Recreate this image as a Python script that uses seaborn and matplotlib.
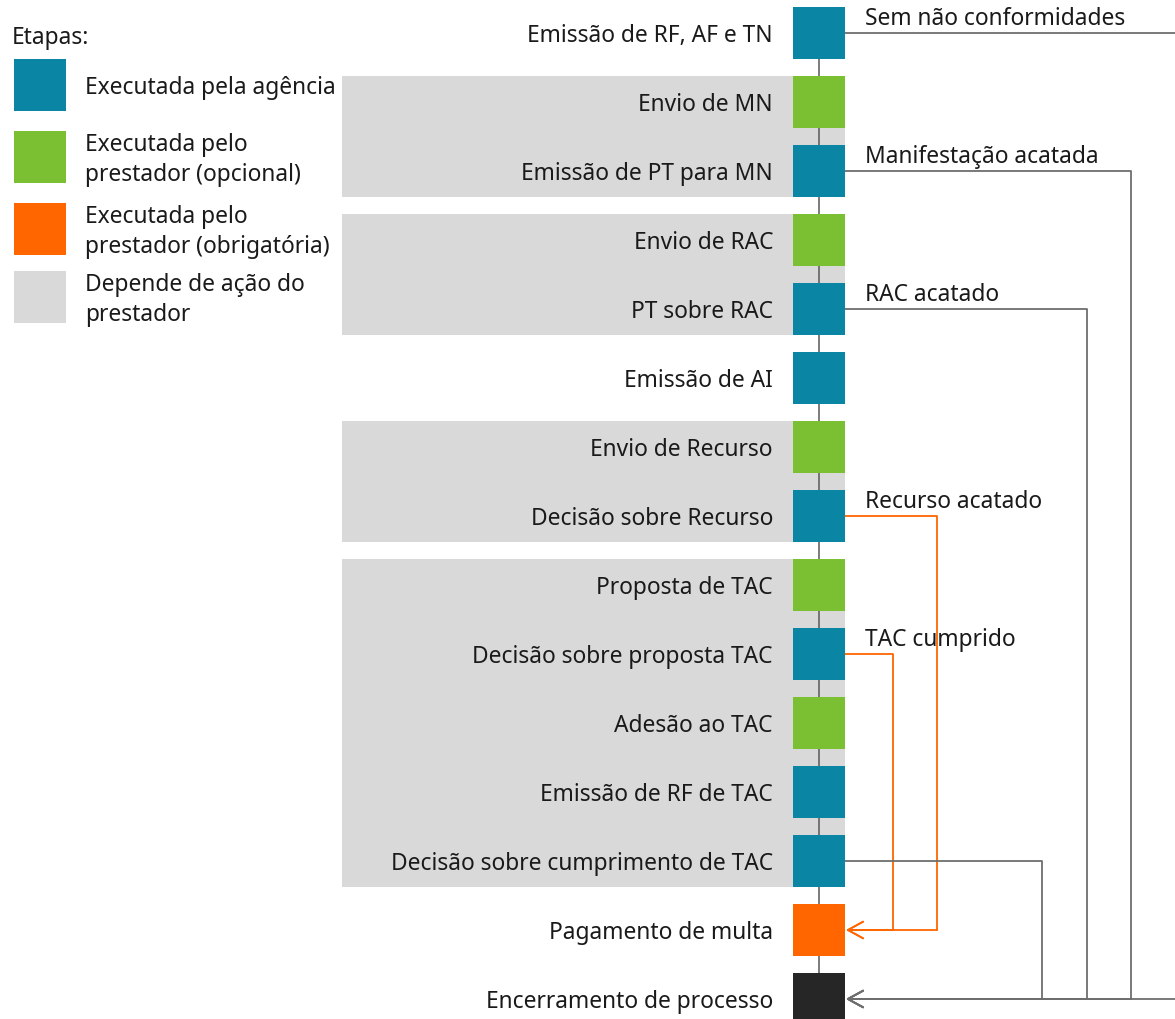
import matplotlib
matplotlib.use("Agg")
import matplotlib.pyplot as plt
import pandas as pd
import seaborn as sns

# ==============================
# DATA
# ==============================
steps = [
    "Emissão de RF, AF e TN",
    "Envio de MN",
    "Emissão de PT para MN",
    "Envio de RAC",
    "PT sobre RAC",
    "Emissão de AI",
    "Envio de Recurso",
    "Decisão sobre Recurso",
    "Proposta de TAC",
    "Decisão sobre proposta TAC",
    "Adesão ao TAC",
    "Emissão de RF de TAC",
    "Decisão sobre cumprimento de TAC",
    "Pagamento de multa",
    "Encerramento de processo",
]
step_types = [
    "agencia", "opcional", "agencia", "opcional", "agencia", "agencia",
    "opcional", "agencia", "opcional", "agencia", "opcional", "agencia",
    "agencia", "obrigatoria", "fim",
]
# gray bands: (first step, last step)
bands = [(1, 2), (3, 4), (6, 7), (8, 12)]

# exits: (from step, to step, label, kind)
exits = [
    (0, 14, "Sem não conformidades", "normal"),
    (2, 14, "Manifestação acatada", "normal"),
    (4, 14, "RAC acatado", "normal"),
    (7, 13, "Recurso acatado", "multa"),
    (9, 13, "TAC cumprido", "multa"),
    (12, 14, "", "normal"),
]

legend_title = "Etapas:"
legend_types = ["agencia", "opcional", "obrigatoria", "banda"]
legend_labels = [
    "Executada pela agência",
    "Executada pelo\nprestador (opcional)",
    "Executada pelo\nprestador (obrigatória)",
    "Depende de ação do\nprestador",
]

palette = {
    "agencia": "#0A86A4",
    "opcional": "#7BBF33",
    "obrigatoria": "#FF6600",
    "fim": "#262626",
    "banda": "#D9D9D9",
}
line_colors = {"normal": "#6E6E6E", "multa": "#FF6600"}

# ==============================
# LAYOUT
# ==============================
W, H = 1175, 1019
ROW0, ROWH = 33, 69          # pixel centre of first row, row pitch
SQ = 52                      # square side in px
X_SQ = 819                   # centre x of the step squares
X_LABEL = 773
X_EXIT_LABEL = 865
lanes = {0: 1200, 2: 1131, 4: 1087, 7: 937, 9: 893, 12: 1042}
DY = 3 / ROWH                # small downward nudge for centred text

sns.set_theme(style="white")
plt.rcParams["font.family"] = ["Noto Sans", "DejaVu Sans"]

fig = plt.figure(figsize=(W / 100, H / 100), dpi=100)
ax = fig.add_axes([0, 0, 1, 1])
ax.axis("off")

half = SQ / 2 / ROWH
pt_side = SQ * 72 / 100
fs = 16.4

# gray bands
for a, b in bands:
    ax.add_patch(plt.Rectangle((342, a - half), X_SQ + SQ / 2 - 342, b - a + 2 * half,
                               color=palette["banda"], lw=0, zorder=0))

# spine
ax.plot([X_SQ, X_SQ], [0, len(steps) - 1], color="#595959", lw=1.1, zorder=1)

# step squares
df = pd.DataFrame({"step": steps, "tipo": step_types,
                   "row": range(len(steps)), "x": X_SQ})
sns.scatterplot(data=df, x="x", y="row", hue="tipo", palette=palette,
                marker="s", s=pt_side ** 2, linewidth=0, legend=False,
                ax=ax, zorder=3)

for _, r in df.iterrows():
    ax.text(X_LABEL, r["row"] + DY, r["step"], ha="right", va="center",
            fontsize=fs, color="#1a1a1a")

# exit connectors
x_edge = X_SQ + SQ / 2
for src, dst, label, kind in exits:
    c = line_colors[kind]
    xl = lanes[src]
    ax.plot([x_edge, xl, xl], [src, src, dst], color=c, lw=1.3, zorder=2)
    ax.annotate("", xy=(x_edge + 1, dst), xytext=(xl, dst),
                arrowprops=dict(arrowstyle="->,head_length=0.55,head_width=0.3",
                                color=c, lw=1.3, mutation_scale=20,
                                shrinkA=0, shrinkB=0), zorder=2)
    if label:
        ax.text(X_EXIT_LABEL, src - 8 / ROWH, label, ha="left", va="baseline",
                fontsize=fs, color="#1a1a1a")

# legend
ax.text(12, (35 - ROW0) / ROWH + DY, legend_title, ha="left", va="center",
        fontsize=fs, color="#1a1a1a")
leg_y = [85, 157, 229, 297]
leg = pd.DataFrame({"tipo": legend_types, "x": 40,
                    "row": [(v - ROW0) / ROWH for v in leg_y]})
sns.scatterplot(data=leg, x="x", y="row", hue="tipo", palette=palette,
                marker="s", s=pt_side ** 2, linewidth=0, legend=False,
                ax=ax, zorder=3)
for yv, lab in zip(leg["row"], legend_labels):
    ax.text(85, yv + DY, lab, ha="left", va="center", fontsize=fs,
            color="#1a1a1a", linespacing=1.35)

ax.set_xlim(0, W)
ax.set_ylim((H - ROW0) / ROWH, -ROW0 / ROWH)   # y axis in row units
fig.savefig("out.png", dpi=100)
